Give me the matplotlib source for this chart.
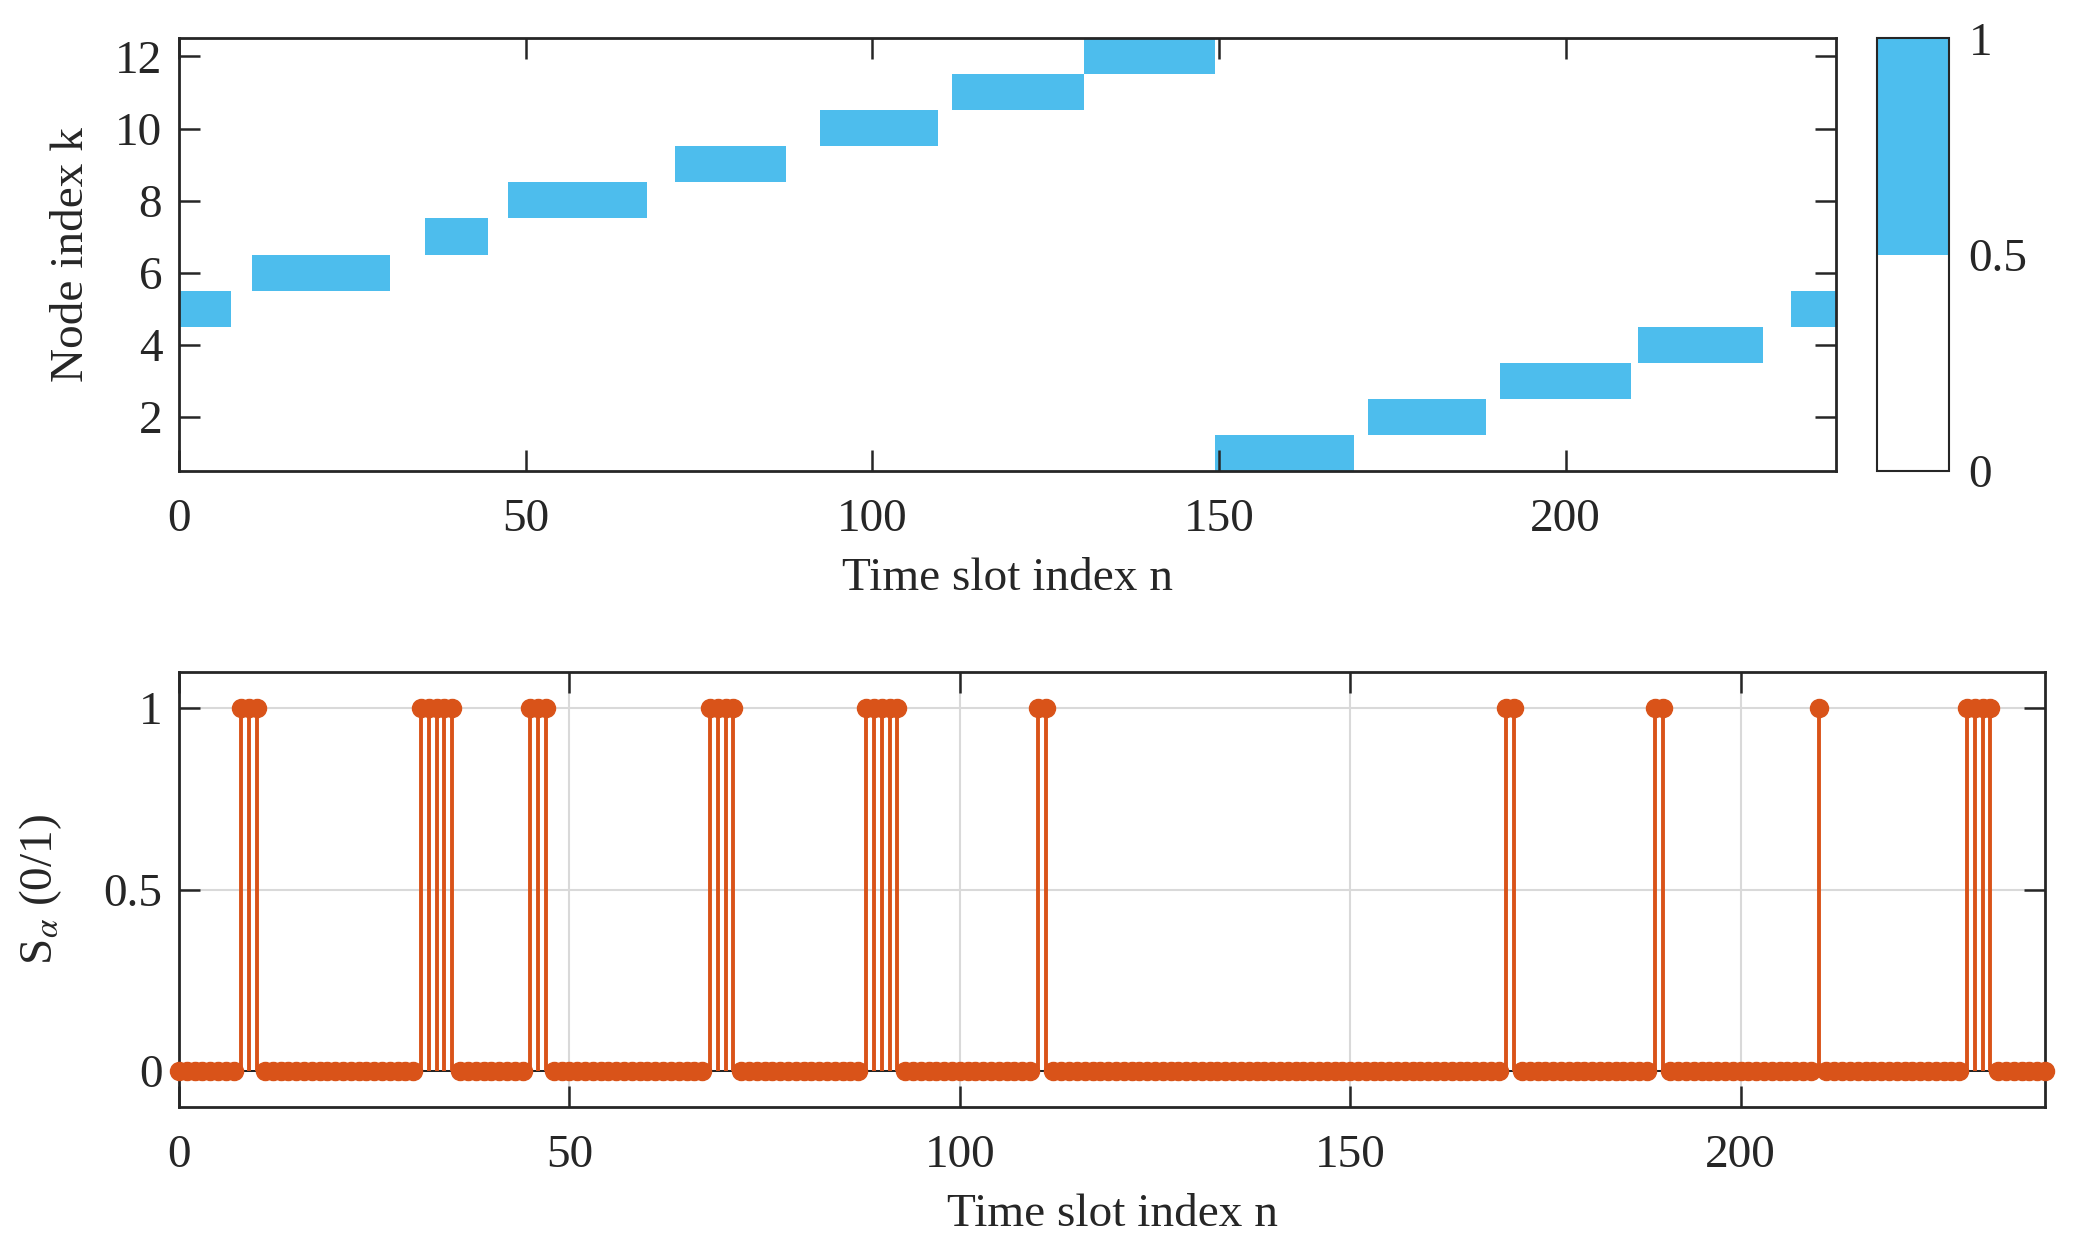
import numpy as np
import matplotlib
matplotlib.use("Agg")
import matplotlib.pyplot as plt
from matplotlib.colors import ListedColormap

plt.rcParams['font.family'] = ['Liberation Serif', 'DejaVu Serif']
plt.rcParams['mathtext.fontset'] = 'stix'

# serving node per time slot: (node k, first slot, last slot)
block_node = [5, 6, 7, 8, 9, 10, 11, 12, 1, 2, 3, 4, 5]
block_start = [0, 11, 36, 48, 72, 93, 112, 131, 150, 172, 191, 211, 233]
block_end = [7, 30, 44, 67, 87, 109, 130, 149, 169, 188, 209, 228, 239]

# slots where S_alpha = 1
switch_slots = [8, 9, 10, 31, 32, 33, 34, 35, 45, 46, 47, 68, 69, 70, 71,
                88, 89, 90, 91, 92, 110, 111, 170, 171, 189, 190, 210,
                229, 230, 231, 232]

N_SLOTS = 240
N_NODES = 12
BLUE = (0.302, 0.745, 0.933)
ORANGE = (0.851, 0.325, 0.098)
DARK = (0.15, 0.15, 0.15)

assoc = np.zeros((N_NODES, N_SLOTS))
for k, a, b in zip(block_node, block_start, block_end):
    assoc[k - 1, a:b + 1] = 1

n = np.arange(N_SLOTS)
s_alpha = np.zeros(N_SLOTS)
s_alpha[switch_slots] = 1

fig = plt.figure(figsize=(20.79, 12.53), dpi=100)
ax1 = fig.add_axes([0.0861, 0.6241, 0.797, 0.3452])
cax = fig.add_axes([0.9028, 0.6241, 0.0347, 0.3452])
ax2 = fig.add_axes([0.0861, 0.1165, 0.8976, 0.3472])

fs = 34

def style(ax):
    for sp in ax.spines.values():
        sp.set_linewidth(2.0)
        sp.set_color(DARK)
    ax.tick_params(direction='in', length=15, width=1.8, colors=DARK,
                   labelsize=fs, top=True, right=True)
    ax.tick_params(axis='x', pad=20)
    ax.tick_params(axis='y', pad=12)

# top: node association map
cmap = ListedColormap(['white', BLUE])
im = ax1.imshow(assoc, origin='lower', aspect='auto', cmap=cmap, vmin=0, vmax=1,
                extent=[-0.5, N_SLOTS - 0.5, 0.5, N_NODES + 0.5],
                interpolation='nearest')
ax1.set_xlim(0, N_SLOTS - 1)
ax1.set_ylim(0.5, N_NODES + 0.5)
ax1.set_xticks([0, 50, 100, 150, 200])
ax1.set_yticks([2, 4, 6, 8, 10, 12])
ax1.set_xlabel('Time slot index n', fontsize=fs, color=DARK, labelpad=12)
ax1.set_ylabel('Node index k', fontsize=fs, color=DARK, labelpad=16)
style(ax1)

cb = fig.colorbar(im, cax=cax, ticks=[0, 0.5, 1])
cb.ax.set_yticklabels(['0', '0.5', '1'])
cb.ax.tick_params(length=0, labelsize=fs, colors=DARK, pad=14)
cb.outline.set_linewidth(1.5)
cb.outline.set_edgecolor(DARK)

# bottom: switching indicator
ax2.grid(True, color=(0.85, 0.85, 0.85), linewidth=1.5)
ax2.set_axisbelow(True)
markerline, stemlines, baseline = ax2.stem(n, s_alpha, basefmt='-')
stemlines.set_color(ORANGE)
stemlines.set_linewidth(2.8)
markerline.set_color(ORANGE)
markerline.set_marker('o')
markerline.set_markersize(13)
markerline.set_markerfacecolor(ORANGE)
markerline.set_markeredgecolor(ORANGE)
markerline.set_clip_on(False)
markerline.set_zorder(4)
baseline.set_color('black')
baseline.set_linewidth(1.2)
baseline.set_zorder(1)
ax2.set_xlim(0, N_SLOTS - 1)
ax2.set_ylim(-0.1, 1.1)
ax2.set_xticks([0, 50, 100, 150, 200])
ax2.set_yticks([0, 0.5, 1])
ax2.set_yticklabels(['0', '0.5', '1'])
ax2.set_xlabel('Time slot index n', fontsize=fs, color=DARK, labelpad=12)
ax2.set_ylabel(r'S$_\alpha$ (0/1)', fontsize=fs, color=DARK, labelpad=28)
style(ax2)

fig.savefig('out.png', dpi=100)
